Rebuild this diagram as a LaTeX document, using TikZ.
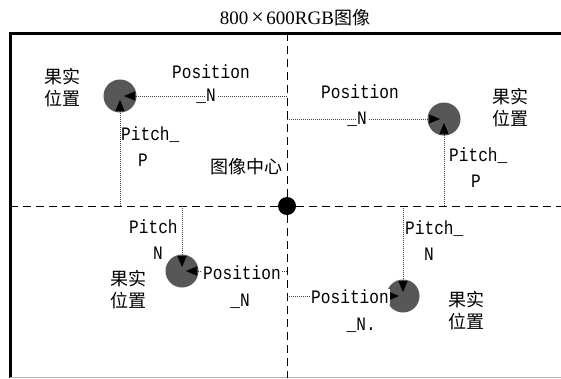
\documentclass[tikz,border=0pt]{standalone}
\usepackage{fontspec}
\setmainfont{Liberation Serif}
\newfontfamily\lat[FakeStretch=0.85]{Liberation Mono}
\newfontfamily\cjk{Noto Sans CJK SC}
\usetikzlibrary{arrows.meta}
\definecolor{fruitgray}{HTML}{575757}
\begin{document}
\begin{tikzpicture}[x=1pt,y=-1pt,
  axis/.style={dash pattern=on 8pt off 5pt, line width=1pt},
  frame/.style={line width=3pt},
  conn/.style={line width=0.7pt, dash pattern=on 1pt off 1pt, black!75,
    -{Triangle[length=11pt,width=9pt,color=black]}, shorten >=4pt},
  fruit/.style={circle, fill=fruitgray, minimum size=33pt, inner sep=0pt},
  lab/.style={font=\lat\fontsize{19}{26}\selectfont, inner sep=1pt},
  labw/.style={lab, fill=white},
  cn/.style={font=\cjk\fontsize{18}{22}\selectfont, align=center, inner sep=0pt}]
\useasboundingbox (0,0) rectangle (561,378);
% frame
\draw[frame] (10,378) -- (10,33) -- (561,33);
\draw[black!30, line width=0.8pt] (10,377) -- (561,377);
% axes
\coordinate (axL) at (10,206);
\coordinate (axR) at (561,206);
\coordinate (axT) at (287,33);
\coordinate (axB) at (287,378);
\draw[axis] (axL) -- (axR);
\draw[axis] (axT) -- (axB);
\node[circle, fill=black, minimum size=18pt, inner sep=0pt] (ctr) at (287,206) {};
% title
\node[inner sep=0pt] (title) at (295,18) {\fontsize{19}{20}\selectfont 800\makebox[18pt]{\fontsize{22}{20}\selectfont ×}600RGB{\cjk\fontsize{18}{20}\selectfont 图像}};
\node[cn] (ctrlab) at (246,167) {图像中心};
% fruits
\node[fruit] (c1) at (120,96) {};
\node[fruit] (c2) at (444,119) {};
\node[fruit] (c3) at (182,271) {};
\node[fruit] (c4) at (403,296) {};
\node[cn] (f1) at (62,88) {果实\\位置};
\node[cn] (f2) at (510,108) {果实\\位置};
\node[cn] (f3) at (128,290) {果实\\位置};
\node[cn] (f4) at (466,311) {果实\\位置};
% axis anchor coordinates
\coordinate (h1) at (287,96);
\coordinate (h2) at (287,119);
\coordinate (h3) at (287,271);
\coordinate (h4) at (287,296);
\coordinate (v1) at (120,206);
\coordinate (v2) at (444,206);
\coordinate (v3) at (182,206);
\coordinate (v4) at (403,206);
% connectors
\draw[conn] (h1) -- (c1.center);
\draw[conn] (h2) -- (c2.center);
\draw[conn] (h3) -- (c3.center);
\draw[conn] (h4) -- (c4.center);
\draw[conn] (v1) -- (c1.center);
\draw[conn] (v2) -- (c2.center);
\draw[conn] (v3) -- (c3.center);
\draw[conn] (v4) -- (c4.center);
% position labels
\node[lab] (p1) at (211,72) {Position};
\node[labw] (p1n) at (211,96) {\llap{\_}N};
\node[lab] (p2) at (360,92) {Position};
\node[labw] (p2n) at (362,119) {\llap{\_}N};
\node[labw] (p3) at (242,273) {Position};
\node[lab] (p3n) at (245,301) {\llap{\_}N};
\node[labw] (p4) at (350,297) {Position};
\node[lab] (p4n) at (366,325) {\llap{\_}N.};
% pitch labels
\node[lab, anchor=west, align=left] (q1) at (120,147) {Pitch\_\\\hspace*{17pt}P};
\node[lab, anchor=west, align=left] (q2) at (448,168) {Pitch\_\\\hspace*{22pt}P};
\node[lab, anchor=west, align=left] (q3) at (128,240) {Pitch\\\hspace*{24pt}N};
\node[lab, anchor=west, align=left] (q4) at (404,241) {Pitch\_\\\hspace*{19pt}N};
\end{tikzpicture}
\end{document}
